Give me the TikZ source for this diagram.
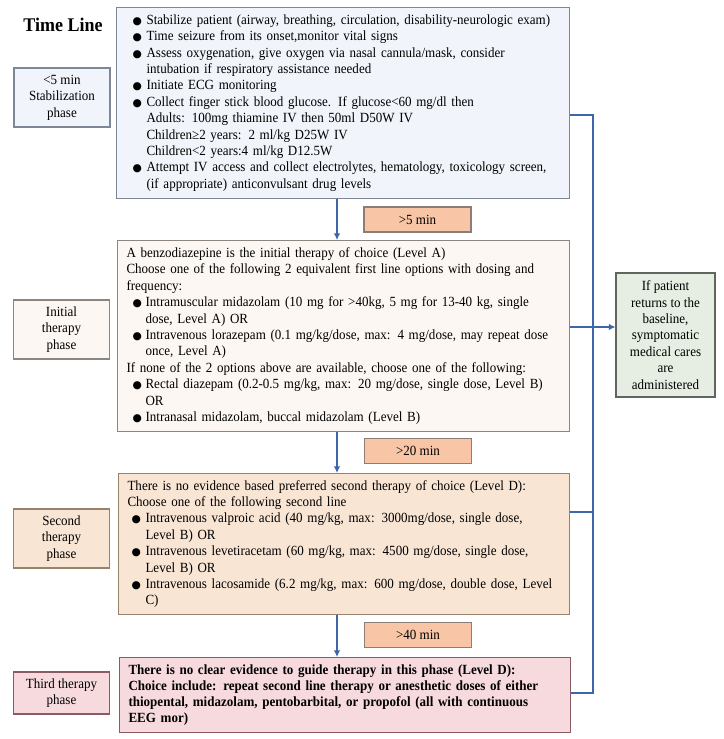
\documentclass[tikz,border=0pt]{standalone}
\usepackage{fontspec}
\setmainfont{Liberation Serif}[FakeStretch=0.93]
\newfontfamily\symfont{DejaVu Sans}
\usetikzlibrary{arrows.meta}

\definecolor{lineblue}{RGB}{62,102,170}
\definecolor{stabfill}{RGB}{241,244,250}
\definecolor{stabdraw}{RGB}{125,135,150}
\definecolor{initfill}{RGB}{252,247,242}
\definecolor{initdraw}{RGB}{140,134,128}
\definecolor{secfill}{RGB}{249,229,212}
\definecolor{secdraw}{RGB}{150,130,110}
\definecolor{thirdfill}{RGB}{247,218,222}
\definecolor{thirddraw}{RGB}{140,90,98}
\definecolor{timefill}{RGB}{248,198,166}
\definecolor{timedraw}{RGB}{140,125,118}
\definecolor{backfill}{RGB}{230,238,228}
\definecolor{backdraw}{RGB}{95,102,95}

\newcommand{\bl}[1]{\makebox[#1][l]{\symfont\fontsize{8}{8}\selectfont ●}}

\begin{document}
\begin{tikzpicture}[x=0.75pt, y=-0.75pt,
    txt/.style={font=\fontsize{10.5}{12.3}\selectfont},
    phasebox/.style={txt, draw, line width=0.8pt, align=center, inner sep=2pt, minimum width=72pt},
    stepbox/.style={txt, draw, line width=0.8pt, align=left, anchor=north west, inner ysep=2pt},
    timebox/.style={txt, draw=timedraw, fill=timefill, line width=0.8pt, minimum width=80.25pt, minimum height=18.75pt},
    flow/.style={draw=lineblue, line width=1.2pt},
    flowarrow/.style={flow, -{Latex[length=5pt, width=5pt]}}]
  \useasboundingbox (0,0) rectangle (724,739);

  \node[font=\fontsize{14.5}{16}\selectfont\bfseries] (title) at (63,25) {Time Line};

  % phases on the left
  \node[phasebox, draw=stabdraw, fill=stabfill, minimum height=44.25pt] (stab) at (62,97.5) {<5 min\\Stabilization\\phase};
  \node[phasebox, draw=initdraw, fill=initfill, minimum height=44.25pt] (init) at (61.5,329.5) {Initial\\therapy\\phase};
  \node[phasebox, draw=secdraw, fill=secfill, minimum height=44.25pt] (second) at (61.5,538.5) {Second\\therapy\\phase};
  \node[phasebox, draw=thirddraw, fill=thirdfill, minimum height=31.5pt] (third) at (61.5,693) {Third therapy\\phase};

  % steps
  \node[stepbox, draw=stabdraw, fill=stabfill, inner xsep=12pt, text width=315.75pt, minimum width=339.75pt, minimum height=143.25pt] (s1) at (116,7) {%
    \bl{10.5pt}Stabilize patient (airway, breathing, circulation, disability-neurologic exam)\\
    \bl{10.5pt}Time seizure from its onset,monitor vital signs\\
    \bl{10.5pt}Assess oxygenation, give oxygen via nasal cannula/mask, consider\\
    \hspace*{10.5pt}intubation if respiratory assistance needed\\
    \bl{10.5pt}Initiate ECG  monitoring\\
    \bl{10.5pt}Collect finger stick blood glucose. If glucose<60 mg/dl then\\
    \hspace*{10.5pt}Adults: 100mg  thiamine IV then 50ml  D50W IV\\
    \hspace*{10.5pt}Children≥2  years: 2 ml/kg  D25W IV\\
    \hspace*{10.5pt}Children<2  years:4 ml/kg  D12.5W\\
    \bl{10.5pt}Attempt IV access and collect electrolytes, hematology, toxicology screen,\\
    \hspace*{10.5pt}(if appropriate) anticonvulsant drug levels};
  \node[stepbox, draw=initdraw, fill=initfill, inner xsep=6.75pt, text width=325.5pt, minimum width=339pt, minimum height=143.25pt] (s2) at (117,240) {%
    A benzodiazepine is the initial therapy of choice (Level A)\\
    Choose one of the following 2 equivalent first line options with dosing and\\
    frequency:\\
    \hspace*{4.5pt}\bl{9.75pt}Intramuscular midazolam (10 mg for >40kg, 5 mg for 13-40 kg, single\\
    \hspace*{14.25pt}dose, Level A) OR\\
    \hspace*{4.5pt}\bl{9.75pt}Intravenous lorazepam (0.1 mg/kg/dose, max: 4 mg/dose, may repeat dose\\
    \hspace*{14.25pt}once, Level A)\\
    If none of the 2 options above are available, choose one of the following:\\
    \hspace*{4.5pt}\bl{9.75pt}Rectal diazepam (0.2-0.5 mg/kg, max: 20 mg/dose, single dose, Level B)\\
    \hspace*{14.25pt}OR\\
    \hspace*{4.5pt}\bl{9.75pt}Intranasal midazolam,  buccal midazolam (Level B)};
  \node[stepbox, draw=secdraw, fill=secfill, inner xsep=6.75pt, text width=324.75pt, minimum width=338.25pt, minimum height=105.75pt] (s3) at (118,473) {%
    There is no evidence based preferred second therapy of choice (Level D):\\
    Choose one of the following second line\\
    \hspace*{3pt}\bl{10.5pt}Intravenous valproic acid (40 mg/kg, max: 3000mg/dose, single dose,\\
    \hspace*{13.5pt}Level B) OR\\
    \hspace*{3pt}\bl{10.5pt}Intravenous levetiracetam (60 mg/kg, max: 4500 mg/dose, single dose,\\
    \hspace*{13.5pt}Level B) OR\\
    \hspace*{3pt}\bl{10.5pt}Intravenous lacosamide (6.2 mg/kg, max: 600 mg/dose, double dose, Level\\
    \hspace*{13.5pt}C)};
  \node[stepbox, draw=thirddraw, fill=thirdfill, inner xsep=6.75pt, text width=324.75pt, minimum width=338.25pt, minimum height=56.25pt, font=\fontsize{10.5}{12}\selectfont\bfseries] (s4) at (119,657) {%
    There is no clear evidence to guide therapy in this phase (Level D):\\
    Choice include: repeat second line therapy or anesthetic doses of either\\
    thiopental, midazolam, pentobarbital, or propofol (all with continuous\\
    EEG mor)};

  \node[txt, draw=backdraw, fill=backfill, line width=0.8pt, align=center, minimum width=74.25pt, minimum height=93pt] (back) at (665.5,335) {If patient\\returns to the\\baseline,\\symptomatic\\medical cares\\are\\administered};

  % time marks
  \node[timebox] (t5) at (417.5,219.5) {>5 min};
  \node[timebox] (t20) at (418,451) {>20 min};
  \node[timebox] (t40) at (418,635) {>40 min};

  % connectors
  \coordinate (down) at (337,0);
  \coordinate (r1) at (593,115);
  \coordinate (r2) at (593,327);
  \coordinate (r3) at (593,512);
  \coordinate (r4) at (593,693);

  \draw[flowarrow] (down |- s1.south) -- (down |- s2.north);
  \draw[flowarrow] (down |- s2.south) -- (down |- s3.north);
  \draw[flowarrow] (down |- s3.south) -- (down |- s4.north);

  \draw[flow] (r1 -| s1.east) -- (r1) -- (r4) -- (r4 -| s4.east);
  \draw[flow] (r3 -| s3.east) -- (r3);
  \draw[flowarrow] (r2 -| s2.east) -- (r2 -| back.west);
\end{tikzpicture}
\end{document}
